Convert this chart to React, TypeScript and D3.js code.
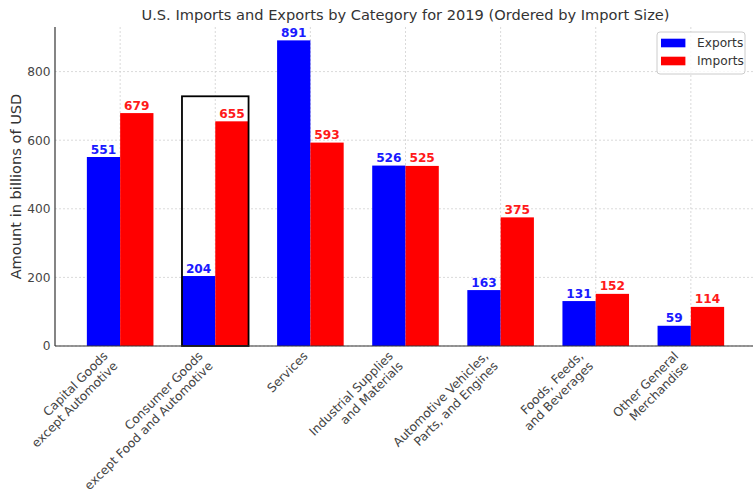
import React from "react";
import * as d3 from "d3";

const categories: string[] = [
  "Capital Goods\nexcept Automotive",
  "Consumer Goods\nexcept Food and Automotive",
  "Services",
  "Industrial Supplies\nand Materials",
  "Automotive Vehicles,\nParts, and Engines",
  "Foods, Feeds,\nand Beverages",
  "Other General\nMerchandise",
];
const exportsVals: number[] = [551, 204, 891, 526, 163, 131, 59];
const importsVals: number[] = [679, 655, 593, 525, 375, 152, 114];
const yTicks: number[] = [0, 200, 400, 600, 800];
const highlightIndex = 1;
const highlightTop = 728;
const yMax = 930;

const W = 753;
const H = 493;
const left = 55;
const right = 756;
const top = 27;
const bottom = 346;
const barW = 0.35;
const FONT = "DejaVu Sans, sans-serif";
const FS = 12.2;

export default function App() {
  const x = d3.scaleLinear().domain([-0.685, categories.length - 1 + 0.685]).range([left, right]);
  const y = d3.scaleLinear().domain([0, yMax]).range([bottom, top]);
  const bw = x(barW) - x(0);

  const valueLabel = (v: number, cx: number, color: string, key: string) => (
    <text key={key} x={cx} y={y(v) - 3.5} textAnchor="middle" fontFamily={FONT} fontSize={FS} fontWeight="bold" fill={color}>
      {v}
    </text>
  );

  return (
    <svg width={W} height={H} style={{ position: "absolute", left: 0, top: 0, background: "#fff" }}>
      <rect x={0} y={0} width={W} height={H} fill="#fff" />
      {/* grid */}
      {yTicks.map((t) => (
        <line key={"gy" + t} x1={left} x2={right} y1={y(t)} y2={y(t)} stroke="#d0d0d0" strokeWidth={0.8} strokeDasharray="2,2" />
      ))}
      {categories.map((c, i) => (
        <line key={"gx" + i} x1={x(i)} x2={x(i)} y1={top} y2={bottom} stroke="#d0d0d0" strokeWidth={0.8} strokeDasharray="2,2" />
      ))}
      {/* bars */}
      {exportsVals.map((v, i) => (
        <rect key={"e" + i} x={x(i - barW)} y={y(v)} width={bw} height={bottom - y(v)} fill="#0000ff" />
      ))}
      {importsVals.map((v, i) => (
        <rect key={"m" + i} x={x(i)} y={y(v)} width={bw} height={bottom - y(v)} fill="#ff0000" />
      ))}
      {/* highlight */}
      <rect
        x={x(highlightIndex - barW)}
        y={y(highlightTop)}
        width={2 * bw}
        height={bottom - y(highlightTop)}
        fill="none"
        stroke="#000"
        strokeWidth={1.8}
      />
      {/* value labels */}
      {exportsVals.map((v, i) => valueLabel(v, x(i - barW / 2), "#1a1aff", "le" + i))}
      {importsVals.map((v, i) => valueLabel(v, x(i + barW / 2), "#ff1a1a", "lm" + i))}
      {/* spines */}
      <line x1={left} x2={left} y1={top} y2={bottom} stroke="#333" strokeWidth={1.2} />
      <line x1={left} x2={right} y1={bottom} y2={bottom} stroke="#333" strokeWidth={1.2} />
      {/* y ticks */}
      {yTicks.map((t) => (
        <text key={"yt" + t} x={left - 4.5} y={y(t)} dy="0.36em" textAnchor="end" fontFamily={FONT} fontSize={FS} fill="#444">
          {t}
        </text>
      ))}
      {/* x tick labels */}
      {categories.map((c, i) => {
        const lines = c.split("\n");
        const n = lines.length;
        const ex = x(i) - 0.707 * ((n - 1) * 14 + 2.5);
        const ey = bottom + 4.3 + 0.707 * 9.3;
        return (
          <g key={"xl" + i} transform={`translate(${ex},${ey}) rotate(-45)`}>
            <text textAnchor="end" fontFamily={FONT} fontSize={FS} fill="#444">
              {lines.map((l, k) => (
                <tspan key={k} x={0} y={k * 14}>
                  {l}
                </tspan>
              ))}
            </text>
          </g>
        );
      })}
      {/* y label */}
      <text
        transform={`translate(21,${(top + bottom) / 2}) rotate(-90)`}
        textAnchor="middle"
        fontFamily={FONT}
        fontSize={14.6}
        fill="#333"
      >
        Amount in billions of USD
      </text>
      {/* title */}
      <text x={(left + right) / 2} y={20} textAnchor="middle" fontFamily={FONT} fontSize={14.6} fill="#333">
        U.S. Imports and Exports by Category for 2019 (Ordered by Import Size)
      </text>
      {/* legend */}
      <g>
        <rect x={657} y={32} width={88} height={42} rx={3} fill="#fff" fillOpacity={0.8} stroke="#ccc" strokeWidth={1} />
        {[
          { label: "Exports", color: "#0000ff" },
          { label: "Imports", color: "#ff0000" },
        ].map((d, k) => (
          <g key={d.label}>
            <rect x={661} y={43 + k * 18 - 4.3} width={24.4} height={8.6} fill={d.color} />
            <text x={697} y={43 + k * 18} dy="0.36em" fontFamily={FONT} fontSize={FS} fill="#333">
              {d.label}
            </text>
          </g>
        ))}
      </g>
    </svg>
  );
}
